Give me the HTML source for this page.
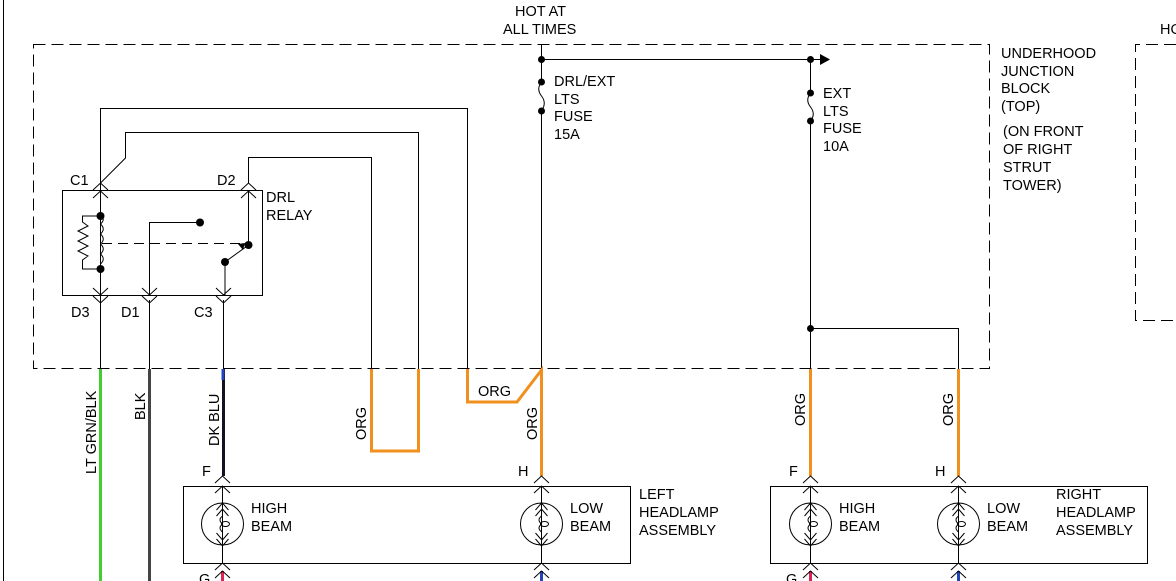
<!DOCTYPE html>
<html><head><meta charset="utf-8"><style>
html,body{margin:0;padding:0;background:#fff;}
svg{display:block;}
text{font-family:"Liberation Sans",Arial,sans-serif;font-size:14.5px;fill:#000;}
</style></head><body>
<svg width="1176" height="581" viewBox="0 0 1176 581" xmlns="http://www.w3.org/2000/svg">
<defs>
<g id="bulb">
 <circle cx="0" cy="0" r="21" fill="none" stroke="#000" stroke-width="1"/>
 <path d="M-6,-14 L0,-21 L6,-14 M-6,-8 L0,-15 L6,-8 M-6,15 L0,22 L6,15 M-6,9 L0,16 L6,9" fill="none" stroke="#000"/>
 <path d="M0,-15 L0,-8 Q-5,-4 0,0 Q-5,4 0,8 L0,16" fill="none" stroke="#000"/>
 <ellipse cx="3" cy="0" rx="4" ry="2.5" fill="none" stroke="#000"/>
</g>
</defs>
<g fill="none" stroke="#000" stroke-width="1">
 <line x1="3.5" y1="0" x2="3.5" y2="581"/>
 <rect x="33.5" y="44.5" width="956" height="324" stroke-dasharray="12,6"/>
 <path d="M1176,44.5 H1135.5 V320.5 H1176" stroke-dasharray="12,6"/>
 <rect x="62.5" y="190.5" width="200" height="105"/>
 <path d="M100.5,369 V108.5 H467.5 V369"/>
 <path d="M100.5,183 L125.5,158 V132.5 H418.5 V369"/>
 <path d="M248.5,183 V157.5 H371.5 V369"/>
 <path d="M93,190 L100.5,183 L108,190 M93,198 L100.5,191 L108,198"/>
 <path d="M241,190 L248.5,183 L256,190 M241,198 L248.5,191 L256,198"/>
 <path d="M100.5,191 V295 M248.5,191 V245 L225,262 V295"/>
 <path d="M93,288 L100.5,295 L108,288 M93,296 L100.5,303 L108,296 M142,288 L149.5,295 L157,288 M142,296 L149.5,303 L157,296 M216,288 L223.5,295 L231,288 M216,296 L223.5,303 L231,296"/>
 <path d="M149.5,295 V222.5 H200"/>
 <path d="M100.5,216 Q106,219 100.5,224 Q106,229 100.5,234 Q106,239 100.5,244 Q106,249 100.5,254 Q106,259 100.5,264 M100.5,216 H82.5 V222 L88,226 L78,231 L88,236 L78,241 L88,246 L78,251 L88,256 L82.5,260 V269 H100.5"/>
 <line x1="102" y1="243.5" x2="240" y2="243.5" stroke-dasharray="10,6"/>
 <line x1="100.5" y1="300" x2="100.5" y2="369"/>
 <line x1="149.5" y1="300" x2="149.5" y2="369"/>
 <line x1="223.5" y1="300" x2="223.5" y2="369"/>
 <path d="M541.5,44 V82 M541.5,111 V369 M541.5,82 Q536,89 541.5,96 Q547,103 541.5,111"/>
 <path d="M541.5,59.5 H820"/>
 <path d="M810.5,59 V93 M810.5,121 V369 M810.5,93 Q805,100 810.5,107 Q816,114 810.5,121 M810.5,328.5 H958.5 V369"/>
 <rect x="183.5" y="486.5" width="447" height="77"/>
 <rect x="770.5" y="486.5" width="377" height="77"/>
</g>
<path d="M820,54 L830,59.5 L820,65 Z" fill="#000"/>
<g fill="#000">
 <circle cx="100.5" cy="216" r="4"/><circle cx="100.5" cy="269" r="4"/>
 <circle cx="200" cy="222.5" r="4"/><circle cx="248.5" cy="245" r="4"/><circle cx="225" cy="262" r="4"/>
 <circle cx="541.5" cy="59.5" r="3.5"/><circle cx="541.5" cy="82" r="3.5"/><circle cx="541.5" cy="111" r="3.5"/>
 <circle cx="810.5" cy="59.5" r="3.5"/><circle cx="810.5" cy="93" r="3.5"/><circle cx="810.5" cy="121" r="3.5"/>
 <circle cx="810.5" cy="328.5" r="3.5"/>
 <path d="M245,243 L238,244 L243,250 Z"/>
</g>
<g fill="none" stroke-width="3">
 <line x1="100.5" y1="369" x2="100.5" y2="581" stroke="#44cc33"/>
 <line x1="149.5" y1="369" x2="149.5" y2="581" stroke="#444"/>
 <line x1="223.5" y1="369" x2="223.5" y2="476" stroke="#112"/>
 <line x1="223" y1="369" x2="223" y2="380" stroke="#2244bb"/>
 <path d="M371.5,369 V451 H418.5 V369" stroke="#f0901e"/>
 <path d="M467.5,369 V402 H517 L541.5,370 V476" stroke="#f0901e"/>
 <line x1="810.5" y1="369" x2="810.5" y2="476" stroke="#f0901e"/>
 <line x1="958.5" y1="369" x2="958.5" y2="476" stroke="#f0901e"/>
 <line x1="222.5" y1="571" x2="222.5" y2="581" stroke="#dd2255"/>
 <line x1="541.5" y1="571" x2="541.5" y2="581" stroke="#2244bb"/>
 <line x1="810.5" y1="571" x2="810.5" y2="581" stroke="#dd2255"/>
 <line x1="958.5" y1="571" x2="958.5" y2="581" stroke="#2244bb"/>
</g>
<g fill="none" stroke="#000">
 <path d="M215,483 L222.5,476 L230,483 M215,493 L222.5,486 L230,493 M215,570 L222.5,563 L230,570 M215,578 L222.5,571 L230,578 M222.5,486 V563"/>
 <path d="M534,483 L541.5,476 L549,483 M534,493 L541.5,486 L549,493 M534,570 L541.5,563 L549,570 M534,578 L541.5,571 L549,578 M541.5,486 V563"/>
 <path d="M803,483 L810.5,476 L818,483 M803,493 L810.5,486 L818,493 M803,570 L810.5,563 L818,570 M803,578 L810.5,571 L818,578 M810.5,486 V563"/>
 <path d="M951,483 L958.5,476 L966,483 M951,493 L958.5,486 L966,493 M951,570 L958.5,563 L966,570 M951,578 L958.5,571 L966,578 M958.5,486 V563"/>
</g>
<use href="#bulb" x="222.5" y="524"/><use href="#bulb" x="541.5" y="524"/>
<use href="#bulb" x="810.5" y="524"/><use href="#bulb" x="958.5" y="524"/>
<text x="515" y="16">HOT AT</text><text x="503" y="34">ALL TIMES</text>
<text x="1160" y="34">HO</text>
<text x="1001" y="58">UNDERHOOD</text><text x="1001" y="76">JUNCTION</text><text x="1001" y="93">BLOCK</text><text x="1001" y="111">(TOP)</text>
<text x="1003" y="136">(ON FRONT</text><text x="1003" y="154">OF RIGHT</text><text x="1003" y="172">STRUT</text><text x="1003" y="190">TOWER)</text>
<text x="554" y="86">DRL/EXT</text><text x="554" y="104">LTS</text><text x="554" y="121">FUSE</text><text x="554" y="139">15A</text>
<text x="823" y="98">EXT</text><text x="823" y="116">LTS</text><text x="823" y="133">FUSE</text><text x="823" y="151">10A</text>
<text x="70" y="185">C1</text><text x="217" y="185">D2</text>
<text x="266" y="202">DRL</text><text x="266" y="220">RELAY</text>
<text x="71" y="317">D3</text><text x="121" y="317">D1</text><text x="194" y="317">C3</text>
<text x="478" y="396">ORG</text>
<text transform="translate(96,474) rotate(-90)">LT GRN/BLK</text>
<text transform="translate(145,420) rotate(-90)">BLK</text>
<text transform="translate(219,446) rotate(-90)">DK BLU</text>
<text transform="translate(366,440) rotate(-90)">ORG</text>
<text transform="translate(537,440) rotate(-90)">ORG</text>
<text transform="translate(805,426) rotate(-90)">ORG</text>
<text transform="translate(953,426) rotate(-90)">ORG</text>
<text x="202" y="476">F</text><text x="518" y="476">H</text>
<text x="789" y="476">F</text><text x="935" y="476">H</text>
<text x="251" y="513">HIGH</text><text x="251" y="531">BEAM</text>
<text x="570" y="513">LOW</text><text x="570" y="531">BEAM</text>
<text x="839" y="513">HIGH</text><text x="839" y="531">BEAM</text>
<text x="987" y="513">LOW</text><text x="987" y="531">BEAM</text>
<text x="639" y="499">LEFT</text><text x="639" y="517">HEADLAMP</text><text x="639" y="535">ASSEMBLY</text>
<text x="1056" y="499">RIGHT</text><text x="1056" y="517">HEADLAMP</text><text x="1056" y="535">ASSEMBLY</text>
<text x="199" y="584">G</text><text x="786" y="584">G</text>
</svg>
</body></html>
